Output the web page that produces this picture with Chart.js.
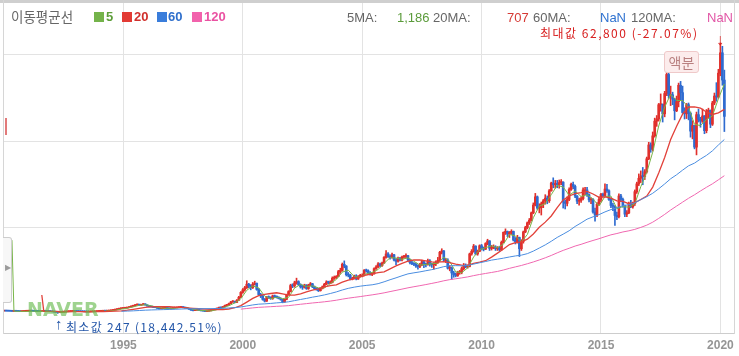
<!DOCTYPE html>
<html><head><meta charset="utf-8">
<script src="https://cdn.jsdelivr.net/npm/chart.js"></script>
<style>
html,body{margin:0;padding:0;background:#fff;}
#wrap{position:relative;width:739px;height:356px;overflow:hidden;font-family:"Liberation Sans",Arial,sans-serif;}
#c{position:absolute;left:0;top:0;}
.t{position:absolute;white-space:nowrap;line-height:1;}
.kr{font-family:"Noto Sans CJK KR","Noto Sans",sans-serif;}
.sq{position:absolute;width:10px;height:10px;}
.ln{position:absolute;}
</style></head><body>
<div id="wrap">
<canvas id="c" width="739" height="356"></canvas>
<div class="ln" style="left:0;top:0;width:739px;height:3px;background:#cfcfcf"></div>
<div class="ln" style="left:3px;top:0;width:1px;height:334px;background:#d6d6d6"></div>
<div class="ln" style="left:734px;top:0;width:1px;height:334px;background:#d6d6d6"></div>
<div class="ln" style="left:3px;top:237px;width:8px;height:64px;border:1px solid #cdcdcd;border-left:none;border-radius:0 3px 3px 0;background:#f7f7f7"></div>
<div class="t" style="left:5px;top:264px;font-size:8px;color:#9a9a9a">&#9654;</div>
<div class="ln" style="left:5px;top:118px;width:2px;height:17px;background:#e27a7a"></div>

<div class="t kr" style="left:11px;top:10px;font-size:13.5px;color:#666">이동평균선</div>
<div class="sq" style="left:94px;top:12px;background:#74b34a"></div>
<div class="t" style="left:106px;top:10px;font-size:13px;font-weight:bold;color:#5e9e3a">5</div>
<div class="sq" style="left:122px;top:12px;background:#e23a34"></div>
<div class="t" style="left:134px;top:10px;font-size:13px;font-weight:bold;color:#d0302c">20</div>
<div class="sq" style="left:157px;top:12px;background:#3a7ddb"></div>
<div class="t" style="left:168px;top:10px;font-size:13px;font-weight:bold;color:#2f6fcc">60</div>
<div class="sq" style="left:192px;top:12px;background:#f262ac"></div>
<div class="t" style="left:204px;top:10px;font-size:13px;font-weight:bold;color:#ea52a2">120</div>

<div class="t" style="left:347px;top:11px;font-size:13px;color:#666">5MA:</div>
<div class="t" style="left:397px;top:11px;font-size:13px;color:#5b9b3b">1,186</div>
<div class="t" style="left:433px;top:11px;font-size:13px;color:#666">20MA:</div>
<div class="t" style="left:507px;top:11px;font-size:13px;color:#d63a35">707</div>
<div class="t" style="left:533px;top:11px;font-size:13px;color:#666">60MA:</div>
<div class="t" style="left:600px;top:11px;font-size:13px;color:#2f72d0">NaN</div>
<div class="t" style="left:631px;top:11px;font-size:13px;color:#666">120MA:</div>
<div class="t" style="left:707px;top:11px;font-size:13px;color:#e256a6">NaN</div>

<div class="t kr" style="left:540px;top:27px;font-size:12px;letter-spacing:1.5px;color:#d82020">최대값 62,800 (-27.07%)</div>
<div class="t" style="left:716px;top:32px;font-size:16px;color:#d82020">↓</div>
<div class="t kr" style="left:664px;top:51px;width:33px;height:20px;border:1px solid #efc9c9;border-radius:3px;background:#fcecec;color:#b98080;font-size:14px;line-height:20px;text-align:center">액분</div>

<div class="t" style="left:27px;top:300px;font-family:'DejaVu Sans',sans-serif;font-size:19px;font-weight:bold;color:rgba(98,184,72,0.62)">NAVER</div>
<div class="t" style="left:55px;top:316px;font-size:15px;color:#2456a8">↑</div>
<div class="t kr" style="left:66px;top:321px;font-size:12px;letter-spacing:1.3px;color:#2456a8">최소값 247 (18,442.51%)</div>
</div>
<script>
// Monthly candles, first month = January 1990, values in KRW
const START_YEAR = 1990;
const OPEN = [
800,820,800,780,760,740,770,750,720,690,710,740,
760,770,790,780,750,730,720,700,720,750,730,710,
690,640,580,520,470,500,560,600,640,680,700,720,
740,720,700,680,660,640,620,600,620,640,660,700,
720,740,760,800,780,820,880,950,1050,1150,1250,1350,
1400,1450,1500,1600,1750,1900,2050,2200,2300,2150,2250,2400,
2200,1950,1800,1750,1650,1600,1450,1350,1400,1450,1500,1400,
1350,1400,1500,1550,1600,1650,1700,1600,1500,1400,1200,1000,
900,1000,1050,950,850,800,700,750,850,950,1100,1250,
1400,1600,1550,1800,2100,2200,2500,2900,3000,2800,3300,4000,
5100,5700,6200,7000,6600,6200,7000,7200,5800,4600,4300,3500,
3100,4000,3900,3700,4300,4100,4000,3700,3500,2900,3500,4600,
5300,6700,6600,7300,7600,6900,6400,6300,6800,6000,6800,7100,
6400,6000,5800,5500,6000,6400,7000,7500,7400,7400,8400,8500,
8800,9900,10200,11600,11200,9200,9100,8300,8300,8900,8200,8800,
9000,9000,10200,10100,9600,9300,9400,10600,11000,11700,11300,11900,
13200,14000,13400,13200,13800,12600,12300,13000,12600,13300,13400,13600,
12600,12000,11700,11600,11200,11100,11500,12200,11600,11500,12400,11600,
11500,11700,12100,12500,14400,14700,12600,12600,10700,10800,9600,9200,
9000,9700,9800,10600,11400,11000,11100,14000,14600,15800,14000,14600,
15900,15200,15100,16400,17000,15300,15600,15600,15200,15400,15000,16700,
19000,19200,18600,19000,19200,17200,16800,17800,15200,16900,19100,20100,
21200,21800,23500,25300,27200,24600,24700,25600,26300,26900,26300,28600,
30400,30000,30300,30000,30500,30600,26000,25700,26600,28900,30100,29600,
27400,26200,26400,26800,28800,28800,27700,26500,26600,23700,23000,25500,
26600,27800,27500,29000,28600,26600,25200,25000,22900,22600,27400,26600,
25200,23200,23500,25600,24900,25600,28400,30200,31500,32000,31900,33000,
36000,39200,38200,41300,44700,45200,48500,48600,46400,51100,55500,50600,
50800,49800,47100,49200,53000,51300,46700,46400,48500,46500,42400,43700,
38700,46200,45100,44700,45900,42500,47000,47200,44000,48900,50500,50300,
55800,60500,54200];
const HIGH = [
850,850,820,800,780,790,790,770,740,730,760,780,
800,820,820,800,770,750,740,750,780,770,750,730,
710,660,600,540,530,590,630,670,710,730,750,770,
760,740,720,700,680,660,640,650,670,690,730,750,
770,790,830,820,850,920,990,1100,1200,1300,1420,1470,
1520,1570,1680,1830,1990,2150,2300,2420,2380,2350,2550,2500,
2250,2000,1880,1800,1720,1650,1500,1450,1500,1560,1550,1450,
1450,1560,1600,1650,1700,1760,1750,1650,1540,1450,1250,1050,
1050,1120,1080,980,880,830,780,880,980,1150,1300,1460,
1700,1680,1880,2200,2350,2620,3050,3200,3100,3450,4200,5300,
6000,6500,7800,7200,6900,7400,7700,7300,6000,4900,4500,3700,
4200,4300,4100,4500,4500,4300,4100,3900,3600,3600,4700,5500,
7000,7100,7700,8400,7800,7100,6800,7000,6900,7000,7400,7200,
6600,6200,6000,6200,6600,7200,7800,7700,7800,8700,8900,9000,
10200,10700,11900,12400,11300,9700,9300,8600,9100,9200,9000,9300,
9400,10400,10500,10300,9900,9700,10800,11300,12000,11900,12100,13400,
14800,14300,13800,14200,13900,12900,13300,13200,13500,13700,14000,13700,
12800,12400,12000,11900,11500,11800,12600,12300,11900,12800,12700,11900,
12000,12400,13200,14600,15200,14800,13000,12900,11300,11000,10000,9600,
10000,10200,11000,11800,11700,11500,14200,15000,16200,15900,14900,16100,
16200,15600,16600,17400,17100,16000,16100,15900,15700,15800,17000,19100,
19800,19300,19200,19600,19300,17800,18300,17900,17300,19300,20400,21400,
22200,23700,25800,28000,27400,25600,26000,26600,27700,27400,28900,30600,
31600,31000,31000,31100,31200,30700,26500,27200,29300,30400,30600,29900,
27500,26900,27200,29300,29400,29400,27900,27000,26800,24600,25900,27200,
28000,28100,30200,30100,28800,26900,25700,25200,23700,27900,27800,26900,
25300,24000,26000,26400,26000,28800,30600,32500,33200,34000,33500,36400,
39800,39700,42200,45400,46000,48800,51000,48700,51600,56000,56600,52800,
51400,50000,50500,53500,53900,52800,47800,48800,48900,46800,44800,43700,
46800,47500,45600,47500,46000,47400,47700,47300,49300,51200,53600,56700,
62800,62000,56500];
const LOW = [
780,780,760,740,720,730,730,700,670,680,700,720,
740,750,760,730,710,700,680,680,700,710,690,670,
620,560,500,247,450,490,540,580,620,660,680,700,
700,680,660,640,620,600,580,590,610,630,650,690,
700,720,740,760,760,800,860,930,1020,1120,1220,1320,
1370,1420,1470,1570,1710,1860,2000,2150,2100,2100,2200,2150,
1900,1750,1700,1600,1550,1400,1300,1320,1370,1420,1370,1300,
1300,1360,1460,1510,1560,1610,1560,1450,1350,1150,950,820,
860,960,920,820,770,660,680,730,820,920,1060,1210,
1350,1480,1500,1750,2020,2120,2420,2800,2700,2750,3250,3900,
4900,5400,6000,6200,5700,6000,6800,5600,4400,3900,3300,2900,
3000,3700,3500,3500,3900,3800,3600,3300,2700,2800,3400,4500,
5200,6200,6300,7000,6700,6100,5800,6100,5800,5800,6600,6200,
5800,5600,5300,5400,5900,6300,6900,7100,7100,7300,8100,8300,
8700,9500,10000,10800,8900,8700,8000,8000,8200,8000,8100,8700,
8700,8900,9800,9300,9100,9000,9300,10400,10800,11000,11100,11800,
13000,13200,12800,13000,12400,11500,12100,12400,12400,13000,13100,12400,
11700,11500,11300,10900,10500,10800,11300,10800,11000,11400,11200,10900,
10500,11300,11800,12300,14000,12300,12000,10500,10100,8100,8600,8700,
8800,9300,9400,10300,10800,10700,11000,13700,14400,13800,13700,14500,
14900,14700,15000,16100,14800,14900,15200,14800,14800,14700,14800,16600,
18500,18000,17800,18500,17000,16300,16500,13400,14800,16500,18900,19800,
20800,21600,23300,25100,24300,23500,23000,24700,25500,25600,25900,28500,
29300,29200,29300,29200,30000,24600,24400,25100,26300,28700,29100,27000,
25600,25300,25900,26500,27700,27300,26000,25600,23400,21600,22600,25300,
26000,27200,27300,28200,26400,24700,24000,20600,21900,22300,26100,24800,
22600,22600,23300,24700,24600,25200,28000,29800,30500,30000,31200,32700,
35800,37500,37800,41000,43500,44700,47000,44500,45700,50600,50000,48300,
48500,45000,46900,48000,49600,46500,45200,45300,45000,41000,40600,38300,
36900,44500,43300,44400,41800,42000,45500,43200,43700,48500,49300,50000,
55200,53000,42300];
const CLOSE = [
820,800,780,760,740,770,750,720,690,710,740,760,
770,790,780,750,730,720,700,720,750,730,710,690,
640,580,520,470,500,560,600,640,680,700,720,740,
720,700,680,660,640,620,600,620,640,660,700,720,
740,760,800,780,820,880,950,1050,1150,1250,1350,1400,
1450,1500,1600,1750,1900,2050,2200,2300,2150,2250,2400,2200,
1950,1800,1750,1650,1600,1450,1350,1400,1450,1500,1400,1350,
1400,1500,1550,1600,1650,1700,1600,1500,1400,1200,1000,900,
1000,1050,950,850,800,700,750,850,950,1100,1250,1400,
1600,1550,1800,2100,2200,2500,2900,3000,2800,3300,4000,5100,
5700,6200,7000,6600,6200,7000,7200,5800,4600,4300,3500,3100,
4000,3900,3700,4300,4100,4000,3700,3500,2900,3500,4600,5300,
6700,6600,7300,7600,6900,6400,6300,6800,6000,6800,7100,6400,
6000,5800,5500,6000,6400,7000,7500,7400,7400,8400,8500,8800,
9900,10200,11600,11200,9200,9100,8300,8300,8900,8200,8800,9000,
9000,10200,10100,9600,9300,9400,10600,11000,11700,11300,11900,13200,
14000,13400,13200,13800,12600,12300,13000,12600,13300,13400,13600,12600,
12000,11700,11600,11200,11100,11500,12200,11600,11500,12400,11600,11500,
11700,12100,12500,14400,14700,12600,12600,10700,10800,9600,9200,9000,
9700,9800,10600,11400,11000,11100,14000,14600,15800,14000,14600,15900,
15200,15100,16400,17000,15300,15600,15600,15200,15400,15000,16700,19000,
19200,18600,19000,19200,17200,16800,17800,15200,16900,19100,20100,21200,
21800,23500,25300,27200,24600,24700,25600,26300,26900,26300,28600,30400,
30000,30300,30000,30500,30600,26000,25700,26600,28900,30100,29600,27400,
26200,26400,26800,28800,28800,27700,26500,26600,23700,23000,25500,26600,
27800,27500,29000,28600,26600,25200,25000,22900,22600,27400,26600,25200,
23200,23500,25600,24900,25600,28400,30200,31500,32000,31900,33000,36000,
39200,38200,41300,44700,45200,48500,48600,46400,51100,55500,50600,50800,
49800,47100,49200,53000,51300,46700,46400,48500,46500,42400,43700,38700,
46200,45100,44700,45900,42500,47000,47200,44000,48900,50500,50300,55800,
60500,54200,45800];

// Moving averages, one value per quarter (first value = where each line starts)
const MA5_FIRST_MONTH = 4, MA20_FIRST_MONTH = 19, MA60_FIRST_MONTH = 59, MA120_FIRST_MONTH = 119;
const MA5 = [17200,770,730,720,770,750,720,720,630,530,600,700,710,660,620,670,740,810,970,1240,1460,
1760,2120,2260,2020,1650,1450,1420,1440,1600,1570,1200,980,870,810,1110,1520,2030,2680,3640,5600,
6600,6160,4260,3640,4000,3640,3960,6100,6960,6480,6620,6160,6140,7140,8100,9800,10260,8760,8640,9420,
9720,10400,11820,13140,13060,12760,13100,12300,11420,11580,11720,11880,13260,12280,9860,9660,10780,13300,14980,15440,
15880,15420,16260,18500,18160,16780,18500,22380,25060,25620,27700,29860,29480,27560,28520,27280,27700,26660,25080,27280,
27380,24460,24940,24820,25600,29540,32880,37540,43580,47960,50880,49500,49460,47880,43960,43680,45040,45920,49900,53320];
const MA20 = [4500,750,730,710,680,660,650,640,630,640,660,680,700,760,850,990,1180,1400,1630,1770,1840,
1840,1810,1700,1630,1530,1430,1360,1260,1180,1130,1130,1270,1560,2050,2870,3710,4380,4650,4850,5020,
4780,4460,4470,4780,5210,5630,5900,6380,6660,6870,7480,7970,8270,8710,9130,9380,9690,9860,10560,11220,
11830,12310,12610,12600,12410,12170,12090,12210,12000,11670,11430,11330,11810,12090,12430,13270,14180,15130,16160,16600,
16810,17410,18610,20160,21350,22780,24700,26500,27400,27960,28180,28470,27860,27080,27180,26920,26280,26140,25610,25890,
26580,27370,29460,32740,36290,40440,43530,46310,47970,48000,47690,46810,46250,46620,47420];
const MA60 = [752,788,845,920,997,1050,1092,1125,1161,1206,1263,1306,1322,1337,1344,1355,1383,1427,1499,1592,
1732,1971,2206,2388,2456,2558,2686,2784,2937,3206,3472,3715,4002,4240,4524,4853,5219,5665,6043,6323,
6550,6723,6865,7127,7552,8035,8473,8953,9390,9635,9850,10120,10373,10690,11062,11258,11293,11267,11333,11648,
11957,12247,12573,12788,13027,13297,13538,13722,14068,14657,15368,16093,16923,17823,18580,19365,20353,21175,22038,22578,
23088,23715,24257,24662,25137,25395,25823,26553,27228,28030,29062,30183,31377,32307,33372,34375,35003,35947,36782,37837,
39195,40465];
const MA120 = [1242,1379,1525,1654,1726,1803,1888,1954,2048,2206,2367,2510,2661,2788,2934,3104,3301,3546,3771,3957,
4141,4347,4535,4757,5003,5296,5579,5868,6163,6420,6661,6917,7187,7465,7793,8056,8256,8466,8688,8986,
9253,9485,9719,9957,10289,10666,11006,11337,11729,12146,12609,13106,13648,14256,14821,15311,15823,16221,16686,17113,
17522,17981,18415,18725,19081,19346,19681,20137,20648,21343,22215,23138,24150,25065,25976,26870,27678,28561,29410,30207,
31141,32090];

const YEAR_TICKS = [1995, 2000, 2005, 2010, 2015, 2020];
const PRICE_GRID = [20000, 40000, 60000];

const UP = '#e0302c', DOWN = '#2f6bd0';
const monthX = m => START_YEAR + m / 12;
// month index of j-th MA value: start month, then one month later, then every quarter
function maMonths(first, n, skipOne) {
  const out = [];
  for (let j = 0; j < n; j++) {
    if (j === 0) out.push(first);
    else out.push(skipOne ? first + 1 + 3 * (j - 1) : first + 3 * j);
  }
  return out;
}
function maData(vals, first, skipOne) {
  const ms = maMonths(first, vals.length, skipOne);
  return vals.map((v, j) => ({x: monthX(ms[j]), y: v}));
}
const colors = CLOSE.map((c, i) => c >= OPEN[i] ? UP : DOWN);
const wickData = CLOSE.map((c, i) => ({x: monthX(i), y: [LOW[i], HIGH[i]]}));
const bodyData = CLOSE.map((c, i) => ({x: monthX(i), y: [OPEN[i], c]}));

const lineDs = (label, data, color, w) => ({type: 'line', label, data, borderColor: color, borderWidth: w,
  pointRadius: 0, tension: 0, fill: false, order: 0, spanGaps: true});

new Chart(document.getElementById('c'), {
  type: 'bar',
  data: {
    datasets: [
      {label: 'wick', data: wickData, backgroundColor: colors, barThickness: 1, grouped: false, order: 2, borderWidth: 0},
      {label: 'body', data: bodyData, backgroundColor: colors, barThickness: 2, minBarLength: 1, grouped: false, order: 1, borderWidth: 0},
      lineDs('120', maData(MA120, MA120_FIRST_MONTH, false), '#f067b0', 1),
      lineDs('60', maData(MA60, MA60_FIRST_MONTH, false), '#4a8de0', 1),
      lineDs('20', maData(MA20, MA20_FIRST_MONTH, true), '#e2413a', 1.3),
      lineDs('5', maData(MA5, MA5_FIRST_MONTH, true), '#78b548', 1)
    ]
  },
  options: {
    responsive: false, animation: false, devicePixelRatio: 1,
    layout: {padding: {left: 4, right: 5, top: 3, bottom: 0}},
    plugins: {legend: {display: false}, tooltip: {enabled: false}},
    scales: {
      x: {type: 'linear', min: 1990, max: 2020.57, offset: false,
        afterBuildTicks: s => { s.ticks = YEAR_TICKS.map(v => ({value: v})); },
        afterFit: s => { s.height = 23; },
        grid: {color: '#e3e3e3', drawTicks: false, offset: false},
        border: {color: '#cdcdcd'},
        ticks: {color: '#959595', padding: 5, maxRotation: 0, autoSkip: false,
          font: {family: 'Liberation Sans', size: 12, weight: 'bold'},
          callback: v => String(v)}},
      y: {min: -4280, max: 72020,
        afterBuildTicks: s => { s.ticks = PRICE_GRID.map(v => ({value: v})); },
        afterFit: s => { s.width = 0; },
        grid: {color: '#e3e3e3', drawTicks: false},
        border: {display: false},
        ticks: {display: false}}
    }
  }
});
</script>
</body></html>
